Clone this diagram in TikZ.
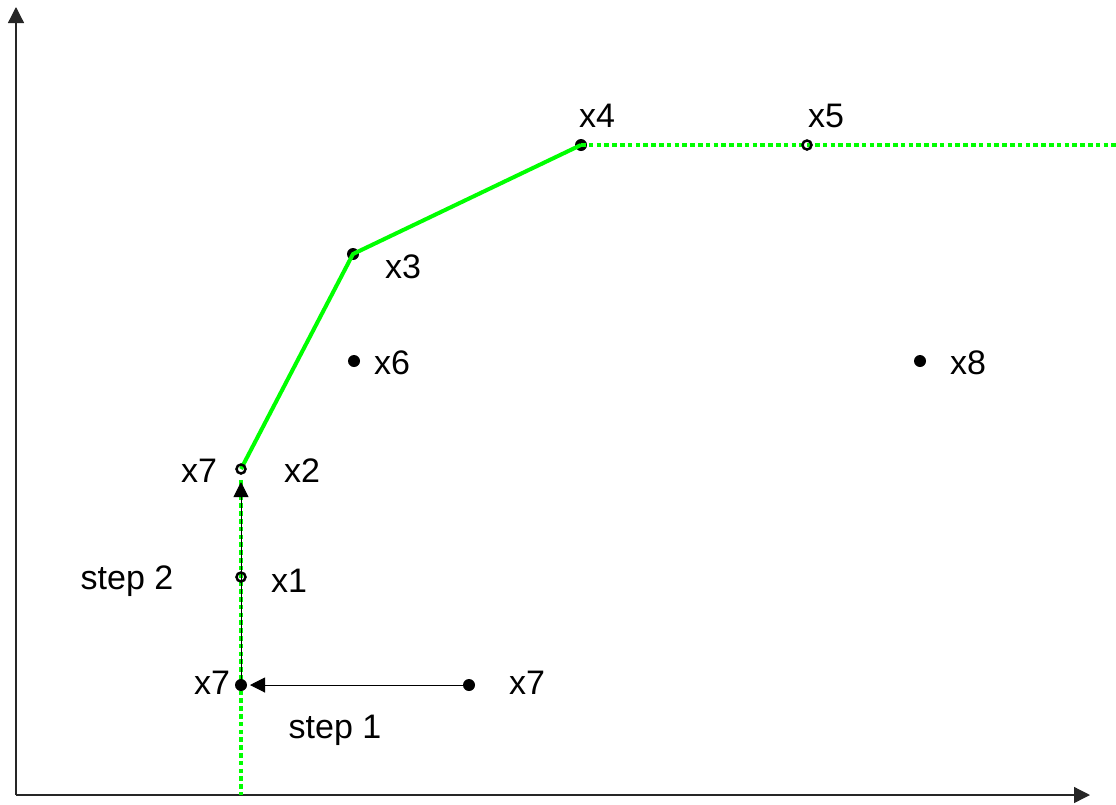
\documentclass[tikz,border=0pt]{standalone}
\usepackage{fontspec}
\setmainfont{Liberation Sans}
\usetikzlibrary{arrows.meta}
\definecolor{hullgreen}{RGB}{0,255,0}
\begin{document}
\begin{tikzpicture}[x=1pt,y=-1pt,
  font=\fontsize{34}{40}\selectfont,
  axis/.style={line width=1.3pt, draw=black!85, -{Triangle[length=16pt,width=16pt]}},
  hull/.style={draw=hullgreen, line width=4pt},
  hulldot/.style={hull, line width=4.5pt, dash pattern=on 4.5pt off 3.3pt},
  movearrow/.style={draw=black, line width=1pt, -{Triangle[length=15pt,width=15pt]}},
  dotpt/.style={fill=black},
  ringpt/.style={draw=black, line width=2.5pt},
  lbl/.style={inner sep=0pt, anchor=center}
]
\useasboundingbox (0,0) rectangle (1116,804);
% axes
\coordinate (O) at (16,795);
\coordinate (Ytop) at (16,7);
\coordinate (Xend) at (1090,795);
\draw[axis] (O) -- (Ytop);
\draw[axis] (O) -- (Xend);
% points
\coordinate (p4) at (581,145);
\coordinate (p5) at (807,145);
\coordinate (p3) at (353,254);
\coordinate (p6) at (354,361);
\coordinate (p8) at (920,361);
\coordinate (p2) at (241,469);
\coordinate (p1) at (241,577);
\coordinate (p7b) at (241,685);
\coordinate (p7r) at (469,685);
\coordinate (hullEnd) at (1116,145);
\coordinate (vTop) at (241,480);
\coordinate (vBot) at (241,795);
\coordinate (s2tip) at (241,482);
\coordinate (s1tip) at (250,685);
% filled dots
\fill[dotpt] (p4) circle (6);
\fill[dotpt] (p3) circle (6);
\fill[dotpt] (p6) circle (6);
\fill[dotpt] (p8) circle (6);
\fill[dotpt] (p7r) circle (6);
% hull
\draw[hull] (p2) -- (p3) -- (p4);
\draw[hulldot] (p4) -- (hullEnd);
\draw[hulldot] (vTop) -- (vBot);
% moves
\draw[movearrow] (p7b) -- (s2tip);
\draw[movearrow] (p7r) -- (s1tip);
\fill[dotpt] (p7b) circle (6);
% rings
\draw[ringpt] (p2) circle (4.5);
\draw[ringpt] (p1) circle (4.5);
\draw[ringpt] (p5) circle (4.5);
% labels
\node[lbl] (l4) at (597,116) {x4};
\node[lbl] (l5) at (826,116) {x5};
\node[lbl] (l3) at (403,267) {x3};
\node[lbl] (l6) at (392,363) {x6};
\node[lbl] (l8) at (968,363) {x8};
\node[lbl] (l7a) at (199,471) {x7};
\node[lbl] (l2) at (302,471) {x2};
\node[lbl] (ls2) at (127,581) {step 2};
\node[lbl] (l1) at (289,581) {x1};
\node[lbl] (l7b) at (212,683) {x7};
\node[lbl] (l7r) at (527,683) {x7};
\node[lbl] (ls1) at (335,730) {step 1};
\end{tikzpicture}
\end{document}
